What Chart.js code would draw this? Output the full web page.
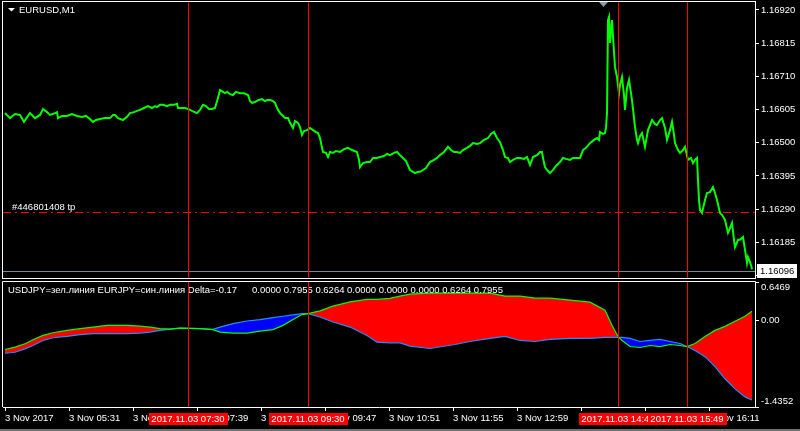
<!DOCTYPE html>
<html><head><meta charset="utf-8">
<script src="https://cdn.jsdelivr.net/npm/chart.js@4/dist/chart.umd.min.js"></script>
<style>
html,body{margin:0;padding:0;background:#000;width:800px;height:431px;overflow:hidden}
#c1{position:absolute;left:0;top:0}
#c2{position:absolute;left:0;top:280px}
#bar{position:absolute;left:0;top:429px;width:800px;height:2px;background:#707070}
</style></head><body>
<canvas id="c1" width="800" height="280"></canvas>
<canvas id="c2" width="800" height="151"></canvas>
<div id="bar"></div>
<script>
// ---- DATA ----
// time in minutes since 00:00, 3 Nov 2017 ; EURUSD M1 close
const priceData = [
[267,1.16594],[272,1.16578],[277,1.16591],[282,1.16588],[286,1.16566],[292,1.16594],[297,1.16578],[302,1.16588],[305,1.16607],[309,1.16597],
[312,1.16588],[317,1.16594],[319,1.16597],[320,1.16578],[324,1.16585],[329,1.16585],[334,1.16591],[339,1.16585],[344,1.16582],[348,1.16585],
[352,1.16575],[355,1.16566],[358,1.16572],[362,1.16575],[367,1.16578],[372,1.16578],[375,1.16588],[377,1.16588],[380,1.16578],[385,1.16572],
[389,1.16582],[392,1.16594],[396,1.16597],[399,1.16601],[402,1.16604],[406,1.16610],[410,1.16616],[414,1.16610],[417,1.16616],[419,1.16613],
[422,1.16620],[425,1.16620],[429,1.16616],[432,1.16620],[436,1.16620],[439,1.16623],[440,1.16610],[442,1.16610],[447,1.16610],[450,1.16607],
[454,1.16601],[459,1.16594],[462,1.16604],[465,1.16620],[468,1.16616],[471,1.16607],[474,1.16607],[477,1.16610],[480,1.16642],[482,1.16667],
[485,1.16661],[487,1.16657],[489,1.16661],[492,1.16654],[495,1.16651],[498,1.16661],[502,1.16657],[506,1.16657],[510,1.16651],[512,1.16632],
[514,1.16626],[517,1.16629],[520,1.16635],[524,1.16638],[527,1.16632],[529,1.16635],[532,1.16635],[535,1.16632],[537,1.16626],[539,1.16610],
[542,1.16594],[545,1.16585],[547,1.16578],[550,1.16578],[552,1.16563],[555,1.16547],[557,1.16569],[560,1.16563],[562,1.16550],[564,1.16525],
[566,1.16537],[569,1.16540],[572,1.16547],[575,1.16540],[578,1.16534],[580,1.16531],[582,1.16515],[584,1.16484],[585,1.16471],[588,1.16468],
[590,1.16455],[592,1.16471],[595,1.16468],[598,1.16474],[602,1.16471],[606,1.16480],[610,1.16484],[614,1.16477],[619,1.16471],[621,1.16446],
[622,1.16423],[625,1.16436],[629,1.16439],[632,1.16439],[635,1.16452],[639,1.16452],[642,1.16455],[646,1.16458],[649,1.16465],[652,1.16461],
[656,1.16468],[659,1.16471],[662,1.16461],[665,1.16452],[668,1.16442],[672,1.16414],[675,1.16408],[677,1.16404],[680,1.16408],[682,1.16408],
[685,1.16414],[688,1.16420],[692,1.16439],[696,1.16446],[699,1.16452],[702,1.16461],[706,1.16471],[710,1.16487],[713,1.16477],[716,1.16471],
[719,1.16471],[722,1.16468],[725,1.16477],[729,1.16484],[732,1.16490],[735,1.16499],[739,1.16496],[742,1.16499],[746,1.16509],[750,1.16515],
[753,1.16528],[756,1.16534],[759,1.16515],[762,1.16502],[765,1.16477],[767,1.16455],[770,1.16452],[772,1.16439],[775,1.16446],[779,1.16452],
[782,1.16452],[786,1.16449],[789,1.16455],[792,1.16430],[794,1.16446],[795,1.16455],[799,1.16461],[802,1.16471],[804,1.16471],[805,1.16452],
[807,1.16423],[809,1.16414],[812,1.16404],[815,1.16414],[817,1.16423],[819,1.16430],[822,1.16439],[825,1.16452],[828,1.16449],[832,1.16446],
[835,1.16452],[839,1.16452],[842,1.16452],[845,1.16477],[848,1.16484],[852,1.16499],[856,1.16509],[859,1.16515],[861,1.16509],[862,1.16534],
[865,1.16528],[867,1.16531],[868,1.16547],[869,1.16594],[870,1.16888],[871,1.16898],[872,1.16816],[873,1.16857],[874,1.16888],[875,1.16835],
[877,1.16740],[879,1.16708],[881,1.16657],[882,1.16683],[884,1.16708],[886,1.16651],[887,1.16604],[889,1.16673],[891,1.16699],[894,1.16635],
[897,1.16550],[899,1.16509],[900,1.16499],[902,1.16521],[904,1.16531],[907,1.16487],[910,1.16540],[912,1.16556],[914,1.16572],[917,1.16559],
[919,1.16556],[922,1.16572],[924,1.16578],[927,1.16547],[929,1.16509],[932,1.16540],[934,1.16566],[936,1.16525],[937,1.16499],[940,1.16477],
[942,1.16468],[945,1.16477],[947,1.16487],[950,1.16446],[953,1.16452],[955,1.16436],[957,1.16446],[959,1.16452],[960,1.16382],[961,1.16319],
[962,1.16287],[964,1.16278],[967,1.16319],[969,1.16341],[972,1.16344],[975,1.16360],[977,1.16341],[979,1.16319],[982,1.16278],[984,1.16272],
[987,1.16256],[990,1.16215],[992,1.16230],[994,1.16246],[996,1.16193],[997,1.16170],[1000,1.16193],[1002,1.16193],[1005,1.16202],[1007,1.16161],
[1009,1.16120],[1010,1.16139],[1012,1.16123],[1013,1.16113],[1014,1.16100]
];
// indicator: USDJPY (green) and EURJPY (blue)
const usdjpyData = [
[267,-0.478],[277,-0.439],[287,-0.382],[295,-0.315],[305,-0.243],[315,-0.198],[329,-0.159],[342,-0.131],[355,-0.104],[369,-0.075],
[389,-0.075],[402,-0.087],[412,-0.104],[422,-0.131],[432,-0.137],[442,-0.120],[462,-0.131],[475,-0.147],[482,-0.188],[495,-0.204],
[509,-0.204],[522,-0.171],[535,-0.147],[545,-0.075],[555,0.021],[564,0.105],[570,0.121],[582,0.165],[595,0.244],[612,0.316],
[629,0.356],[639,0.356],[652,0.373],[662,0.412],[672,0.445],[692,0.462],[717,0.462],[732,0.462],[752,0.462],[767,0.412],
[782,0.412],[797,0.378],[812,0.378],[832,0.345],[852,0.311],[867,0.177],[874,-0.075],[880,-0.260],[884,-0.327],[892,-0.428],
[902,-0.444],[912,-0.411],[922,-0.428],[932,-0.394],[942,-0.411],[949,-0.428],[957,-0.377],[967,-0.260],[977,-0.159],[987,-0.092],
[997,-0.008],[1007,0.076],[1014,0.160]
];
const eurjpyData = [
[267,-0.540],[277,-0.523],[287,-0.466],[295,-0.411],[305,-0.327],[315,-0.282],[329,-0.260],[342,-0.231],[355,-0.214],[369,-0.214],
[389,-0.214],[402,-0.204],[412,-0.188],[422,-0.159],[432,-0.137],[442,-0.120],[462,-0.131],[475,-0.142],[482,-0.104],[495,-0.047],
[509,-0.003],[522,0.021],[535,0.054],[545,0.076],[555,0.098],[564,0.121],[570,0.121],[582,0.064],[595,-0.020],[612,-0.104],
[629,-0.243],[639,-0.355],[652,-0.366],[662,-0.366],[672,-0.420],[692,-0.461],[717,-0.394],[732,-0.344],[752,-0.293],[767,-0.260],
[782,-0.327],[797,-0.344],[812,-0.310],[832,-0.293],[852,-0.293],[867,-0.277],[874,-0.277],[880,-0.277],[884,-0.277],[892,-0.293],
[902,-0.344],[912,-0.327],[922,-0.310],[932,-0.344],[942,-0.377],[949,-0.428],[957,-0.495],[967,-0.596],[977,-0.763],[987,-0.965],
[997,-1.133],[1007,-1.267],[1014,-1.318]
];
const priceTicks = [1.16920,1.16815,1.16710,1.16605,1.16500,1.16395,1.16290,1.16185,1.16080];
const indTicks = [-1.4352, 0, 0.6469];
const indTickLabels = {'-1.4352':'-1.4352','0':'0.00','0.6469':'0.6469'};
const timeTicks = [267,331,395,459,523,587,651,715,779,843,907,971];
const timeTickLabels = ['3 Nov 2017','3 Nov 05:31','3 Nov 06:35','3 Nov 07:39','3 Nov 08:43','3 Nov 09:47','3 Nov 10:51','3 Nov 11:55','3 Nov 12:59','3 Nov 14:03','3 Nov 15:07','3 Nov 16:11'];
const eventTimes = [450,570,880,949];
const eventLabels = ['2017.11.03 07:30','2017.11.03 09:30','2017.11.03 14:40','2017.11.03 15:49'];
const bidPrice = 1.16096;
const tpPrice = 1.16281;
const tpLabel = '#446801408 tp';
const symbolLabel = 'EURUSD,M1';
const indHeader = 'USDJPY=зел.линия EURJPY=син.линия Delta=-0.17';
const indBufferValues = ['0.0000','0.7955','0.6264','0.0000','0.0000','0.0000','0.6264','0.7955'];

// ---- VIEW ----
const X_MIN = 265, X_MAX = 1017;
const PRICE_MIN = 1.160723, PRICE_MAX = 1.169453;
const IND_MIN = -1.4352, IND_MAX = 0.6469;
const FONT = '"Liberation Sans", Arial, sans-serif';
const FS = 9.5;

function vline(ctx, a, px){
  px = Math.round(px) + 0.5;
  ctx.beginPath(); ctx.moveTo(px, a.top); ctx.lineTo(px, a.bottom); ctx.stroke();
}
function noPad(s){ s.paddingTop = 0; s.paddingBottom = 0; s.paddingLeft = 0; s.paddingRight = 0; }

const topDeco = {
  id: 'topDeco',
  afterDatasetsDraw(chart){
    const {ctx, chartArea:a, scales:{x, y}} = chart;
    ctx.save();
    ctx.lineWidth = 1;
    const by = Math.round(y.getPixelForValue(bidPrice)) + 0.5;
    ctx.strokeStyle = '#778899';
    ctx.beginPath(); ctx.moveTo(a.left, by); ctx.lineTo(a.right, by); ctx.stroke();
    const ty = Math.round(y.getPixelForValue(tpPrice)) + 0.5;
    ctx.strokeStyle = '#ff0000';
    ctx.setLineDash([8,4,2,4]);
    ctx.beginPath(); ctx.moveTo(a.left, ty); ctx.lineTo(a.right, ty); ctx.stroke();
    ctx.setLineDash([]);
    ctx.fillStyle = '#fff'; ctx.font = FS + 'px ' + FONT; ctx.textBaseline = 'middle';
    ctx.fillText(tpLabel, a.left + 9, ty - 5.5);
    ctx.strokeStyle = '#ff0000';
    eventTimes.forEach(t => vline(ctx, a, x.getPixelForValue(t)));
    ctx.restore();
  },
  afterDraw(chart){
    const {ctx, chartArea:a, scales:{y}} = chart;
    ctx.save();
    ctx.strokeStyle = '#fff'; ctx.lineWidth = 1;
    ctx.strokeRect(a.left - 0.5, a.top - 0.5, a.right - a.left + 1, a.bottom - a.top + 1);
    ctx.fillStyle = '#fff';
    ctx.beginPath(); ctx.moveTo(8, 8); ctx.lineTo(15, 8); ctx.lineTo(11.5, 11.5); ctx.closePath(); ctx.fill();
    ctx.font = FS + 'px ' + FONT; ctx.textBaseline = 'middle';
    ctx.fillText(symbolLabel, 19, 10);
    ctx.fillStyle = '#8c9aa8';
    ctx.beginPath(); ctx.moveTo(599, 2); ctx.lineTo(608, 2); ctx.lineTo(603.5, 7); ctx.closePath(); ctx.fill();
    const by = Math.round(y.getPixelForValue(bidPrice));
    ctx.fillStyle = '#fff';
    ctx.fillRect(757, by - 7, 40, 14);
    ctx.fillStyle = '#000';
    ctx.fillText(bidPrice.toFixed(5), 760, by + 0.5);
    ctx.restore();
  }
};

const botDeco = {
  id: 'botDeco',
  afterDatasetsDraw(chart){
    const {ctx, chartArea:a, scales:{x}} = chart;
    ctx.save();
    ctx.fillStyle = '#fff'; ctx.font = FS + 'px ' + FONT; ctx.textBaseline = 'middle';
    ctx.fillText(indHeader, 8, 10);
    let px = 252;
    indBufferValues.forEach(v => { ctx.fillText(v, px, 10); px += ctx.measureText(v + ' ').width; });
    ctx.strokeStyle = '#ff0000'; ctx.lineWidth = 1;
    eventTimes.forEach(t => vline(ctx, a, x.getPixelForValue(t)));
    ctx.restore();
  },
  afterDraw(chart){
    const {ctx, chartArea:a, scales:{x}} = chart;
    ctx.save();
    ctx.strokeStyle = '#fff'; ctx.lineWidth = 1;
    ctx.beginPath();
    ctx.moveTo(a.left - 0.5, a.bottom); ctx.lineTo(a.left - 0.5, a.top - 0.5);
    ctx.lineTo(a.right + 0.5, a.top - 0.5); ctx.lineTo(a.right + 0.5, a.bottom);
    ctx.stroke();
    ctx.font = FS + 'px ' + FONT; ctx.textBaseline = 'middle'; ctx.textAlign = 'center';
    eventTimes.forEach((t, i) => {
      const px = x.getPixelForValue(t);
      const w = Math.round(ctx.measureText(eventLabels[i]).width + 6);
      ctx.fillStyle = '#ff0000';
      ctx.fillRect(Math.round(px - w / 2), a.bottom + 6, w, 12);
      ctx.fillStyle = '#fff';
      ctx.fillText(eventLabels[i], px, a.bottom + 12.5);
    });
    ctx.restore();
  }
};

new Chart(document.getElementById('c1'), {
  type: 'line',
  data: { datasets: [{
    label: symbolLabel,
    data: priceData.map(p => ({x: p[0], y: p[1]})),
    borderColor: '#00ff00', borderWidth: 2, pointRadius: 0, tension: 0, fill: false
  }]},
  options: {
    responsive: false, animation: false, events: [],
    layout: {padding: {left: 3, top: 2, right: 0, bottom: 2}},
    plugins: {legend: {display: false}, tooltip: {enabled: false}},
    scales: {
      x: {type: 'linear', min: X_MIN, max: X_MAX, display: false},
      y: {
        position: 'right', min: PRICE_MIN, max: PRICE_MAX,
        afterFit(s){ s.width = 45; noPad(s); },
        afterBuildTicks(s){ s.ticks = priceTicks.map(v => ({value: v})); },
        ticks: {color: '#fff', font: {family: FONT, size: FS}, padding: 2, autoSkip: false,
                callback: v => Number(v).toFixed(5)},
        grid: {drawOnChartArea: false, color: '#fff', tickLength: 4},
        border: {color: '#fff'}
      }
    }
  },
  plugins: [topDeco]
});

new Chart(document.getElementById('c2'), {
  type: 'line',
  data: { datasets: [
    {label: 'USDJPY', data: usdjpyData.map(p => ({x: p[0], y: p[1]})),
     borderColor: '#00ff00', borderWidth: 1.2, pointRadius: 0, tension: 0,
     fill: {target: 1, above: '#ff0000', below: '#0000ff'}},
    {label: 'EURJPY', data: eurjpyData.map(p => ({x: p[0], y: p[1]})),
     borderColor: '#1e90ff', borderWidth: 1.2, pointRadius: 0, tension: 0, fill: false}
  ]},
  options: {
    responsive: false, animation: false, events: [],
    layout: {padding: {left: 3, top: 2, right: 0, bottom: 0}},
    plugins: {legend: {display: false}, tooltip: {enabled: false}, filler: {drawTime: 'beforeDatasetsDraw'}},
    scales: {
      x: {
        type: 'linear', min: X_MIN, max: X_MAX,
        afterFit(s){ s.height = 24; noPad(s); },
        afterBuildTicks(s){ s.ticks = timeTicks.map(v => ({value: v})); },
        ticks: {color: '#fff', font: {family: FONT, size: FS}, align: 'start', autoSkip: false,
                maxRotation: 0, minRotation: 0, padding: 2,
                callback: (v, i) => timeTickLabels[timeTicks.indexOf(v)] ?? timeTickLabels[i]},
        grid: {drawOnChartArea: false, color: '#fff', tickLength: 4},
        border: {color: '#fff'}
      },
      y: {
        position: 'right', min: IND_MIN, max: IND_MAX,
        afterFit(s){ s.width = 45; noPad(s); },
        afterBuildTicks(s){ s.ticks = indTicks.map(v => ({value: v})); },
        ticks: {color: '#fff', font: {family: FONT, size: FS}, padding: 2, autoSkip: false,
                callback: v => {
                  const lbl = indTickLabels[String(v)];
                  if (v === IND_MAX) return ['', lbl];
                  if (v === IND_MIN) return [lbl, ''];
                  return lbl;
                }},
        grid: {drawOnChartArea: false, color: '#fff', tickLength: 4},
        border: {color: '#fff'}
      }
    }
  },
  plugins: [botDeco]
});
</script>
</body></html>
